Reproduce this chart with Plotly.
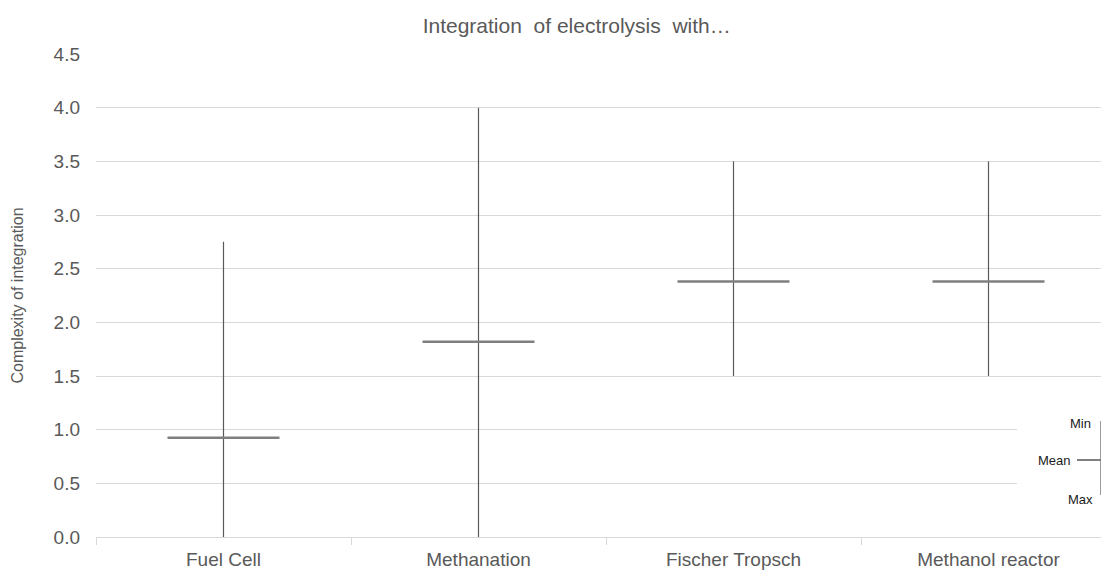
import plotly.graph_objects as go

# data
categories = ["Fuel Cell", "Methanation", "Fischer Tropsch", "Methanol reactor"]
min_vals = [0.0, 0.0, 1.5, 1.5]
max_vals = [2.75, 4.0, 3.5, 3.5]
mean_vals = [0.925, 1.82, 2.38, 2.38]

# the page puts the plot div 8px in from the top-left, so shrink to fit the window
OFF = 8
W, H = 1109 - OFF, 570 - OFF
L, R, T, B = 96 - OFF, 0, 54 - OFF, 33
FONT = "Liberation Sans, Arial, sans-serif"
TXT = "#595959"
GRID = "#d9d9d9"

# plot area in window pixels
PX0, PX1, PY0, PY1 = 96, 1109, 54, 537


def px_x(p):
    return (p - PX0) / (PX1 - PX0)


def px_y(p):
    return (PY1 - p) / (PY1 - PY0)


fig = go.Figure()

# min-max range drawn as error bars around the mean, mean as a short horizontal dash
fig.add_trace(go.Scatter(
    x=categories,
    y=mean_vals,
    mode="markers",
    marker=dict(symbol="line-ew", size=80, line=dict(color="#7f7f7f", width=2.5)),
    error_y=dict(
        type="data",
        symmetric=False,
        array=[mx - m for mx, m in zip(max_vals, mean_vals)],
        arrayminus=[m - mn for m, mn in zip(mean_vals, min_vals)],
        color="#595959",
        thickness=1.2,
        width=0,
    ),
    showlegend=False,
    hoverinfo="skip",
))

# little key in the bottom-right corner (white patch hides the grid behind it)
fig.add_shape(type="rect", xref="paper", yref="paper",
              x0=px_x(1017), x1=px_x(1112), y0=px_y(520), y1=px_y(400),
              fillcolor="white", line=dict(width=0), layer="above")
fig.add_shape(type="line", xref="paper", yref="paper",
              x0=px_x(1101), x1=px_x(1101), y0=px_y(421), y1=px_y(495),
              line=dict(color="#595959", width=1.2), layer="above")
fig.add_shape(type="line", xref="paper", yref="paper",
              x0=px_x(1077), x1=px_x(1109), y0=px_y(460), y1=px_y(460),
              line=dict(color="#7f7f7f", width=2), layer="above")
for label, xr, yc in [("Min", 1093, 423), ("Mean", 1073, 460), ("Max", 1095, 499)]:
    fig.add_annotation(text=label, xref="paper", yref="paper",
                       x=px_x(xr), y=px_y(yc), xanchor="right", yanchor="middle",
                       showarrow=False, font=dict(family=FONT, size=13, color="#1a1a1a"))

fig.update_layout(
    width=W, height=H,
    margin=dict(l=L, r=R, t=T, b=B, autoexpand=False),
    paper_bgcolor="white",
    plot_bgcolor="white",
    font=dict(family=FONT, color=TXT),
    title=dict(text="Integration\u00a0 of electrolysis\u00a0 with…", x=(576.7 - OFF) / W,
               xanchor="center", y=1 - (26 - OFF) / H, yanchor="middle",
               font=dict(size=21, color=TXT)),
)
fig.update_xaxes(
    type="category",
    automargin=False,
    range=[-0.5, -0.5 + (PX1 - PX0) / 255.0],
    tickson="boundaries",
    ticks="outside", ticklen=7, tickcolor=GRID,
    showline=True, linecolor=GRID, linewidth=1,
    showgrid=False,
    ticklabelstandoff=5,
    tickfont=dict(size=19, color=TXT),
)
fig.update_yaxes(
    automargin=False,
    range=[0, 4.5], dtick=0.5, tickformat=".1f",
    showgrid=True, gridcolor=GRID, gridwidth=1,
    zeroline=False, showline=False,
    ticklabelstandoff=15,
    tickfont=dict(size=19, color=TXT),
    title=dict(text="Complexity of integration", font=dict(size=16, color=TXT), standoff=25),
)

fig.write_html("out.html")
